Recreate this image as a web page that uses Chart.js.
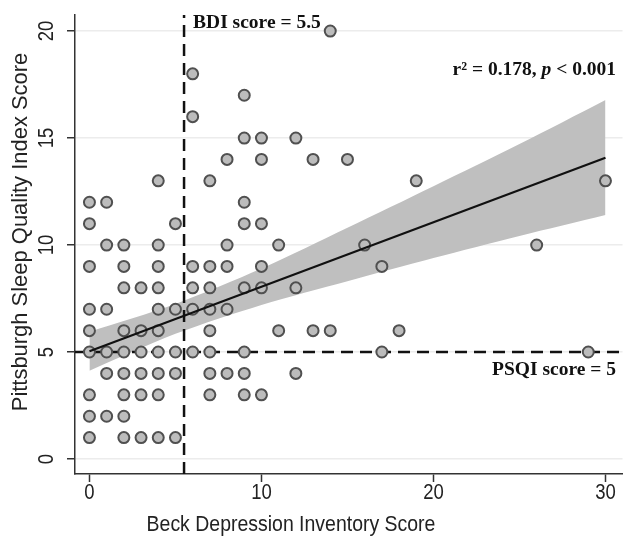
<!DOCTYPE html>
<html><head><meta charset="utf-8">
<script src="https://cdn.jsdelivr.net/npm/chart.js@4.4.1/dist/chart.umd.min.js"></script>
<style>html,body{margin:0;padding:0;background:#fff}#wrap{width:630px;height:539px}</style>
</head><body><div id="wrap"><canvas id="c" width="630" height="539"></canvas></div>
<script>
// Data
const bdiScores = [
  14,
  6,
  9,
  6,
  9,10,12,
  8,10,13,15,
  4,7,19,30,
  0,1,9,
  0,5,9,10,
  1,2,4,8,11,16,26,
  0,2,4,6,7,8,10,17,
  2,3,4,6,7,9,10,12,
  0,1,4,5,6,7,8,
  0,2,3,4,7,11,13,14,18,
  0,1,2,3,4,5,6,7,9,17,29,
  1,2,3,4,5,7,8,9,12,
  0,2,3,4,7,9,10,
  0,1,2,
  0,2,3,4,5
];
const psqiScores = [
  20,
  18,
  17,
  16,
  15,15,15,
  14,14,14,14,
  13,13,13,13,
  12,12,12,
  11,11,11,11,
  10,10,10,10,10,10,10,
  9,9,9,9,9,9,9,9,
  8,8,8,8,8,8,8,8,
  7,7,7,7,7,7,7,
  6,6,6,6,6,6,6,6,6,
  5,5,5,5,5,5,5,5,5,5,5,
  4,4,4,4,4,4,4,4,4,
  3,3,3,3,3,3,3,
  2,2,2,
  1,1,1,1,1
];
const fitX = [0, 30];
const fitY = [5.04, 14.08];
const bandX = [0, 5, 10, 15, 20, 25, 30];
const bandLower = [4.13, 5.85, 7.2, 8.31, 9.39, 10.42, 11.4];
const bandUpper = [5.95, 7.25, 8.9, 10.81, 12.75, 14.72, 16.78];
const xTicks = [0, 10, 20, 30];
const yTicks = [0, 5, 10, 15, 20];
const bdiCutoff = 5.5;
const psqiCutoff = 5;
const xMin = -0.84, xMax = 30.99, yMin = -0.7, yMax = 20.75;

const SANS = "'Liberation Sans', Arial, sans-serif";
const SERIF = "'Liberation Serif', 'Times New Roman', serif";

const pts = (xs, ys) => xs.map((x, i) => ({x: x, y: ys[i]}));

// draw condensed sans text (Helvetica-like look), centred at (cx, cy)
function condensed(ctx, text, cx, cy, px, sx, rot) {
  ctx.save();
  ctx.translate(cx, cy);
  if (rot) ctx.rotate(rot);
  ctx.scale(sx, 1);
  ctx.font = px + 'px ' + SANS;
  ctx.textAlign = 'center';
  ctx.textBaseline = 'middle';
  ctx.fillText(text, 0, 0);
  ctx.restore();
}

const overlay = {
  id: 'overlay',
  afterDraw(chart) {
    const ctx = chart.ctx;
    const xs = chart.scales.x, ys = chart.scales.y;
    const ca = chart.chartArea;
    ctx.save();
    ctx.fillStyle = '#222';
    // tick labels
    yTicks.forEach(v => condensed(ctx, String(v), ca.left - 28, ys.getPixelForValue(v), 21.5, 0.86, -Math.PI / 2));
    xTicks.forEach(v => condensed(ctx, String(v), xs.getPixelForValue(v), ca.bottom + 19, 21.5, 0.86, 0));
    // axis titles
    condensed(ctx, 'Pittsburgh Sleep Quality Index Score', 21, 232, 22.5, 0.975, -Math.PI / 2);
    condensed(ctx, 'Beck Depression Inventory Score', 291, 525, 22.5, 0.865, 0);

    // annotations
    ctx.fillStyle = '#111';
    ctx.textBaseline = 'alphabetic';
    ctx.textAlign = 'left';
    ctx.font = 'bold 19.5px ' + SERIF;
    ctx.fillText('BDI score = 5.5', xs.getPixelForValue(bdiCutoff) + 9, ca.top + 13);

    ctx.textAlign = 'right';
    ctx.fillText('PSQI score = 5', 616, ys.getPixelForValue(psqiCutoff) + 23);

    ctx.textAlign = 'left';
    const partA = 'r\u00B2 = 0.178, ';
    const partB = 'p';
    const partC = ' < 0.001';
    ctx.font = 'bold 19.5px ' + SERIF;
    const wA = ctx.measureText(partA).width;
    const wC = ctx.measureText(partC).width;
    ctx.font = 'bold italic 19.5px ' + SERIF;
    const wB = ctx.measureText(partB).width;
    const x0 = 616 - (wA + wB + wC);
    const by = 75;
    ctx.font = 'bold 19.5px ' + SERIF;
    ctx.fillText(partA, x0, by);
    ctx.font = 'bold italic 19.5px ' + SERIF;
    ctx.fillText(partB, x0 + wA, by);
    ctx.font = 'bold 19.5px ' + SERIF;
    ctx.fillText(partC, x0 + wA + wB, by);
    ctx.restore();
  }
};

new Chart(document.getElementById('c'), {
  type: 'scatter',
  data: {
    datasets: [
      {
        type: 'line',
        data: pts(bandX, bandUpper),
        borderWidth: 0,
        borderColor: 'rgba(0,0,0,0)',
        backgroundColor: '#bfbfbf',
        pointRadius: 0,
        fill: '+1',
        tension: 0.3,
        order: 10
      },
      {
        type: 'line',
        data: pts(bandX, bandLower),
        borderWidth: 0,
        borderColor: 'rgba(0,0,0,0)',
        pointRadius: 0,
        fill: false,
        tension: 0.3,
        order: 10
      },
      {
        type: 'line',
        data: pts([bdiCutoff, bdiCutoff], [yMin, yMax]),
        borderColor: '#111',
        borderWidth: 2.5,
        borderDash: [12, 7],
        pointRadius: 0,
        fill: false,
        order: 5
      },
      {
        type: 'line',
        data: pts([xMin, xMax], [psqiCutoff, psqiCutoff]),
        borderColor: '#111',
        borderWidth: 2.5,
        borderDash: [12, 7],
        pointRadius: 0,
        fill: false,
        order: 5
      },
      {
        type: 'scatter',
        data: pts(bdiScores, psqiScores),
        pointRadius: 5.5,
        pointBorderWidth: 2,
        backgroundColor: '#bcbcbc',
        borderColor: '#505050',
        order: 2
      },
      {
        type: 'line',
        data: pts(fitX, fitY),
        borderColor: '#111',
        borderWidth: 2.2,
        pointRadius: 0,
        fill: false,
        order: 1
      }
    ]
  },
  options: {
    responsive: false,
    animation: false,
    devicePixelRatio: 1,
    layout: {padding: {top: 15, right: 5, left: 0, bottom: 0}},
    plugins: {legend: {display: false}, tooltip: {enabled: false}},
    scales: {
      x: {
        type: 'linear',
        min: xMin, max: xMax,
        afterBuildTicks: s => { s.ticks = xTicks.map(v => ({value: v})); },
        afterFit: s => { s.height = 65; },
        ticks: {display: false, includeBounds: false},
        grid: {drawOnChartArea: false, tickLength: 8, tickColor: '#333', tickWidth: 1.5},
        border: {display: true, color: '#333', width: 1.5}
      },
      y: {
        type: 'linear',
        min: yMin, max: yMax,
        afterBuildTicks: s => { s.ticks = yTicks.map(v => ({value: v})); },
        afterFit: s => { s.width = 75; },
        ticks: {display: false, includeBounds: false},
        grid: {color: '#ececec', lineWidth: 1.5, tickLength: 8, tickColor: '#333', tickWidth: 1.5},
        border: {display: true, color: '#333', width: 1.5}
      }
    }
  },
  plugins: [overlay]
});
</script>
</body></html>
